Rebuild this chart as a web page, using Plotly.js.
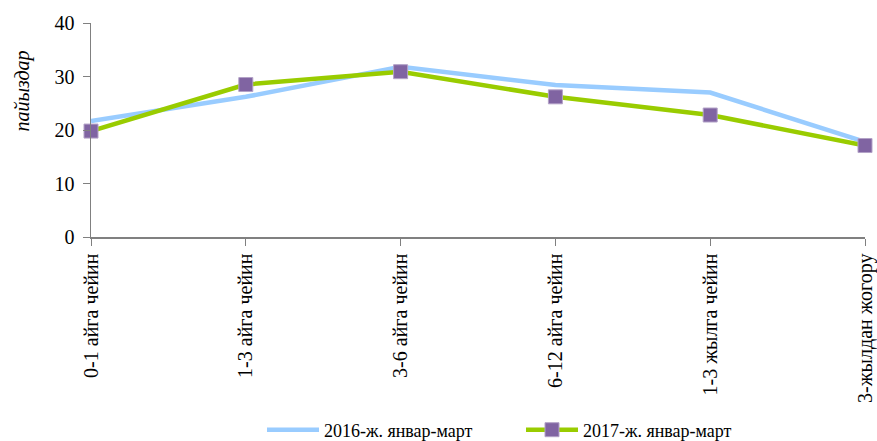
<!DOCTYPE html>
<html><head><meta charset="utf-8">
<script src="https://cdn.plot.ly/plotly-3.0.1.min.js"></script>
<style>html,body{margin:0;padding:0;background:#fff}#c{width:877px;height:441px}</style>
</head><body><div id="c"></div>
<script>
const categories = ["0-1 айга чейин","1-3 айга чейин","3-6 айга чейин","6-12 айга чейин","1-3 жылга чейин","3-жылдан жогору"];
const series2016 = [21.7, 26.2, 31.8, 28.4, 27.0, 17.8];
const series2017 = [19.8, 28.5, 30.9, 26.2, 22.8, 17.1];
const yTicks = [0, 10, 20, 30, 40];
const name2016 = "2016-ж. январ-март";
const name2017 = "2017-ж. январ-март";
const yTitle = "пайыздар";

const font = "Liberation Serif, Times New Roman, serif";
const data = [
  {x: categories, y: series2016, name: name2016, type: "scatter", mode: "lines", cliponaxis: false,
   line: {color: "#99CCFF", width: 4.5}},
  {x: categories, y: series2017, name: name2017, type: "scatter", mode: "lines+markers", cliponaxis: false,
   line: {color: "#99CC00", width: 4.5},
   marker: {symbol: "square", size: 14, color: "#8064A2", line: {color: "#B3A2C7", width: 1}}}
];
const layout = {
  width: 877, height: 441,
  margin: {l: 91, r: 12, t: 23, b: 204},
  paper_bgcolor: "#fff", plot_bgcolor: "#fff",
  font: {family: font, color: "#000", size: 18},
  showlegend: true,
  legend: {orientation: "h", xref: "container", yref: "container",
           x: 262 / 877, xanchor: "left", y: 11 / 441, yanchor: "middle",
           font: {family: font, size: 18}, itemwidth: 52, entrywidth: 192, entrywidthmode: "pixels"},
  xaxis: {type: "category", range: [0, categories.length - 1], showgrid: false, zeroline: false,
          showline: true, linecolor: "#808080", linewidth: 1.5, automargin: false,
          ticks: "outside", tickcolor: "#808080", ticklen: 7, tickangle: -90,
          tickfont: {family: font, size: 20}, fixedrange: true},
  yaxis: {range: [0, 40], tickvals: yTicks, showgrid: false, zeroline: false,
          showline: true, linecolor: "#808080", linewidth: 1.5, automargin: false,
          ticks: "outside", tickcolor: "#808080", ticklen: 7, ticklabelstandoff: 4,
          tickfont: {family: font, size: 20}, fixedrange: true},
  annotations: [{text: yTitle, textangle: -90, xref: "paper", yref: "paper",
                 x: -0.089, y: 0.68, xanchor: "center", yanchor: "middle", showarrow: false,
                 font: {family: font, size: 20, style: "italic"}}]
};
Plotly.newPlot("c", data, layout, {displayModeBar: false, staticPlot: true});
</script></body></html>
